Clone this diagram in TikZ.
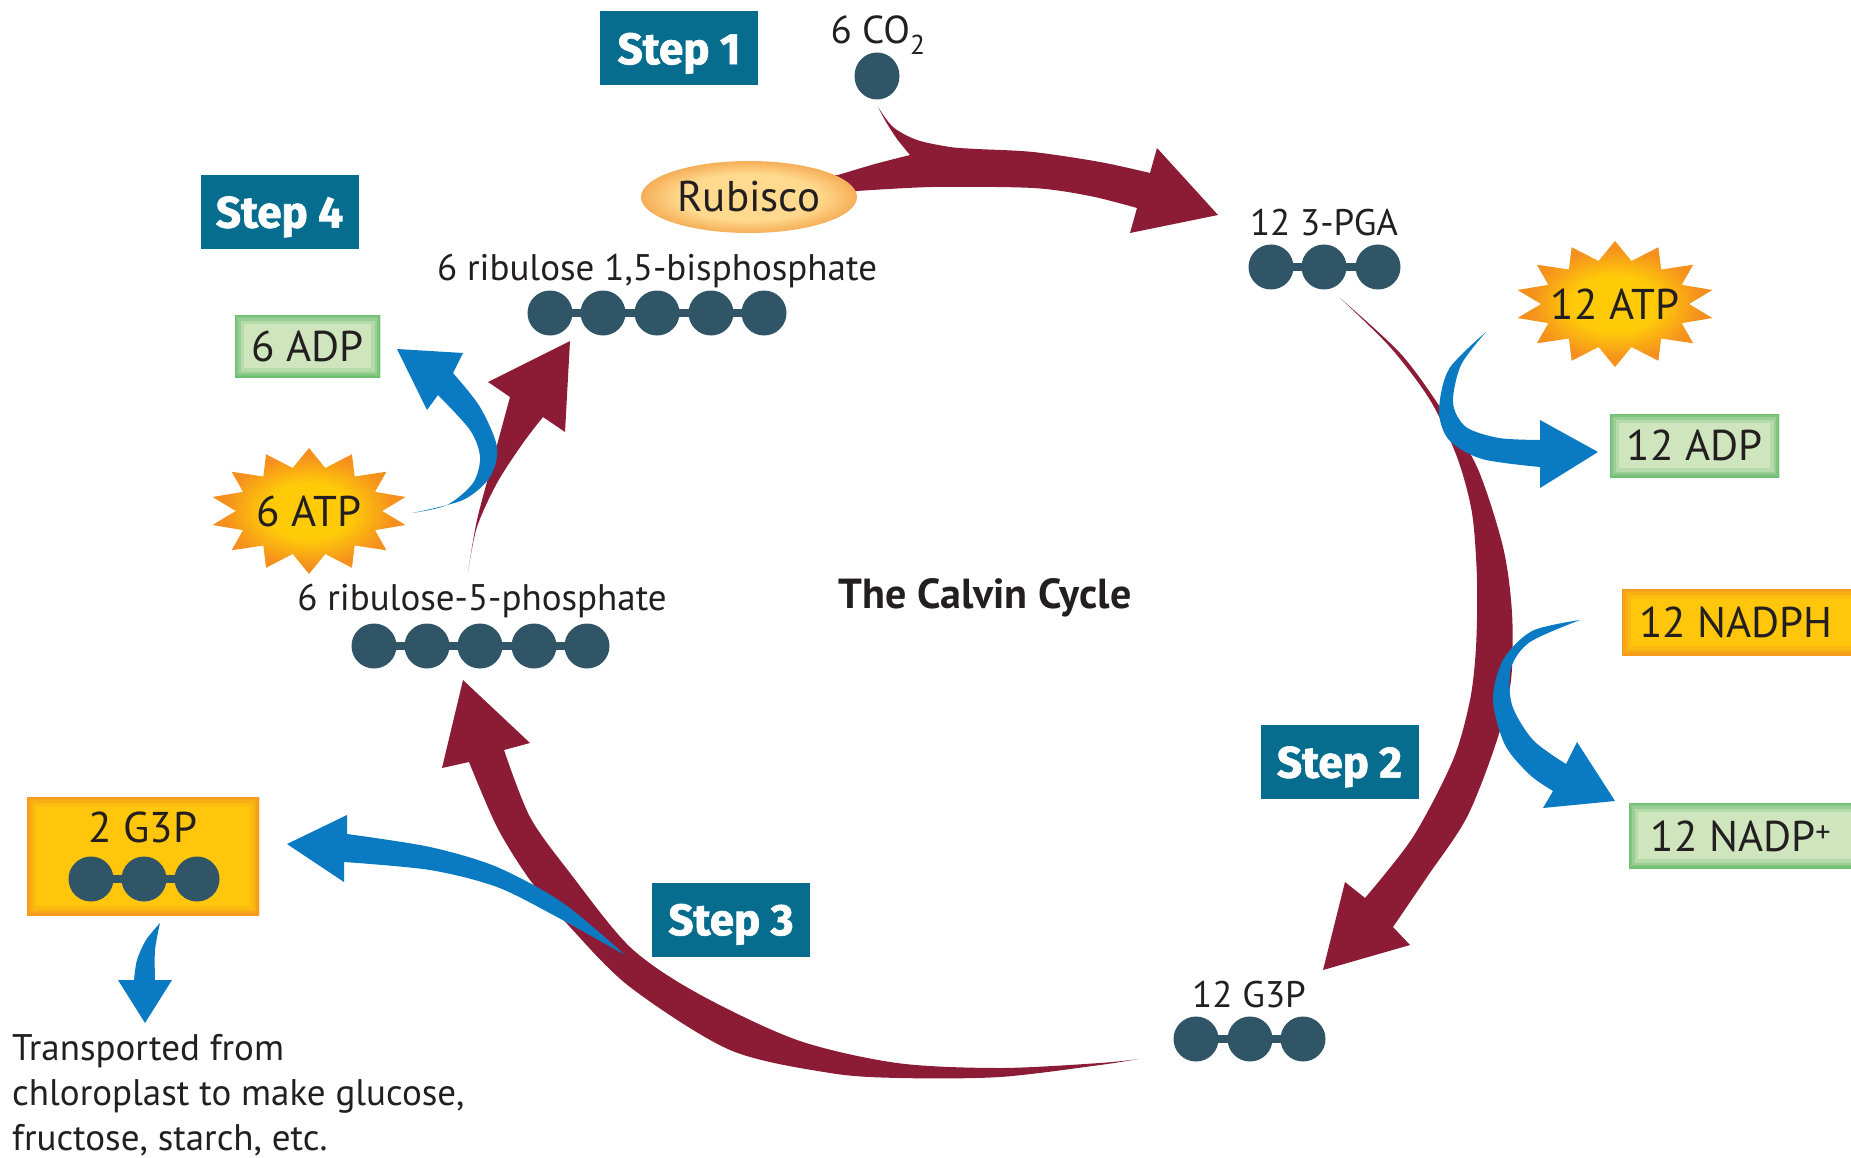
\documentclass[tikz,border=0pt]{standalone}
\usepackage{fontspec}
\setmainfont{PT Sans}
\newfontfamily\stepfont{Fira Sans}[UprightFont=* Bold, UprightFeatures={FakeBold=1.5}]
\definecolor{arrred}{HTML}{8C1C36}
\definecolor{arrblue}{HTML}{0A7AC3}
\definecolor{molcol}{HTML}{2F5567}
\definecolor{stepteal}{HTML}{066D8F}
\definecolor{txt}{HTML}{231F20}
\definecolor{greenfill}{HTML}{CEE5BD}
\definecolor{greenedge}{HTML}{6FBF73}
\definecolor{orfill}{HTML}{FFC60C}
\definecolor{oredge}{HTML}{F59A1E}
\definecolor{burstin}{HTML}{FFCB08}
\definecolor{burstout}{HTML}{F5901E}
\definecolor{rubin}{HTML}{FFDA8E}
\definecolor{rubout}{HTML}{F6AE58}
\pgfdeclareradialshading{burstshade}{\pgfpoint{0bp}{0bp}}{color(0bp)=(burstin); color(11bp)=(burstin); color(22bp)=(burstout); color(50bp)=(burstout)}
\pgfdeclareradialshading{rubshade}{\pgfpoint{0bp}{0bp}}{color(0bp)=(rubin); color(16bp)=(rubin); color(25bp)=(rubout); color(50bp)=(rubout)}
\newcommand\glowrect[6]{%
  \begin{scope}
  \clip (#1,#2) rectangle (#3,#4);
  \fill[#5] (#1,#2) rectangle (#3,#4);
  \draw[#6, line width=18pt, opacity=.25] (#1,#2) rectangle (#3,#4);
  \draw[#6, line width=11pt, opacity=.4] (#1,#2) rectangle (#3,#4);
  \draw[#6, line width=6pt, opacity=.6] (#1,#2) rectangle (#3,#4);
  \draw[#6, line width=2.5pt, opacity=1] (#1,#2) rectangle (#3,#4);
  \end{scope}}
\newcommand\burstshape[4]{%
  \shade[shading=burstshade] plot[samples at={0,...,27}, variable=\k]
   ({#1+(mod(\k,2)==0 ? #3 : 0.74*#3)*cos(\k*360/28+90)},
    {#2+(mod(\k,2)==0 ? #4 : 0.70*#4)*sin(\k*360/28+90)}) -- cycle;}
\begin{document}
\begin{tikzpicture}[x=1pt, y=-1pt,
  redarrow/.style={fill=arrred},
  bluearrow/.style={fill=arrblue},
  molc/.style={fill=molcol},
  stepbox/.style={fill=stepteal, minimum width=158pt, minimum height=74pt, inner sep=0pt,
     text=white, font=\stepfont\fontsize{44}{50}\selectfont},
  lbl/.style={font=\fontsize{37}{43}\selectfont, inner sep=0pt, text=txt},
  biglbl/.style={font=\fontsize{43}{49}\selectfont, inner sep=0pt, text=txt}]
\useasboundingbox (0,0) rectangle (1851,1158);
\fill[white] (0,0) rectangle (1851,1158);

% ---------- red arrows ----------
% Step 1 arrow (Rubisco + CO2 -> 3-PGA)
\fill[redarrow] (800,180) -- plot[smooth] coordinates {(838,175) (875,164) (910,155)}
  -- plot[smooth] coordinates {(910,155) (897,139) (886,122) (878,107)}
  -- plot[smooth] coordinates {(878,107) (893,127) (917,140) (950,147) (977,149) (1033,152) (1100,162) (1150,173)}
  -- (1157,148) -- (1218,215) -- (1130,233) -- (1137,208)
  -- plot[smooth] coordinates {(1137,208) (1090,196) (1033,188) (933,187) (857,191)}
  -- (800,195) -- cycle;
% Step 2 arc
\fill[redarrow] plot[smooth] coordinates {(1340,298) (1400,353) (1440,407) (1477,467) (1503,547) (1512,613) (1511,680) (1497,740) (1467,817) (1427,877) (1393,927)}
  -- (1410,945) -- (1323,970) -- (1345,882) -- (1365,898)
  -- plot[smooth] coordinates {(1365,898) (1413,837) (1453,760) (1470,700) (1476,647) (1477,580) (1472,513) (1457,457) (1430,400) (1390,347) (1340,298)} -- cycle;
% Step 3 arc
\fill[redarrow] plot[smooth] coordinates {(1138,1059) (1100,1065) (1000,1077) (900,1078) (830,1073) (730,1050) (630,987) (570,927) (530,880) (497,827) (469,762)}
  -- (442,768) -- (463,680) -- (530,743) -- (504,750)
  -- plot[smooth] coordinates {(504,750) (530,817) (570,873) (630,947) (697,993) (797,1040) (897,1063) (1000,1068) (1100,1063) (1138,1059)} -- cycle;
% Step 4 arrow
\fill[redarrow] plot[smooth] coordinates {(468,572) (477,520) (493,460) (510,397)}
  -- (488,382) -- (570,341) -- (565,432) -- (543,417)
  -- plot[smooth] coordinates {(543,417) (523,443) (497,483) (477,527) (468,572)} -- cycle;

% Rubisco
\shade[shading=rubshade] (749,197) ellipse [x radius=108pt, y radius=36pt];
\node[biglbl] (rub) at (749,197) {Rubisco};

% ---------- blue arrows ----------
\fill[bluearrow] plot[smooth] coordinates {(412,513) (447,505) (473,483) (480,457) (470,430) (438,395)}
  -- (427,410) -- (397,349) -- (463,353) -- (453,373)
  -- plot[smooth] coordinates {(453,373) (480,407) (497,447) (490,477) (463,500) (412,513)} -- cycle;
\fill[bluearrow] plot[smooth] coordinates {(1486,332) (1461,365) (1453,403) (1466,427) (1499,438) (1540,440)}
  -- (1540,420) -- (1598,452) -- (1540,488) -- (1540,467)
  -- plot[smooth] coordinates {(1540,467) (1482,459) (1449,440) (1439,411) (1449,369) (1486,332)} -- cycle;
\fill[bluearrow] plot[smooth] coordinates {(1580,620) (1532,631) (1503,660) (1493,700) (1505,745) (1530,775) (1553,791)}
  -- (1543,808) -- (1615,801) -- (1577,742) -- (1566,764)
  -- plot[smooth] coordinates {(1566,764) (1533,740) (1512,705) (1511,668) (1530,642) (1580,620)} -- cycle;
\fill[bluearrow] plot[smooth] coordinates {(625,955) (563,903) (497,867) (430,847) (347,834)}
  -- (347,815) -- (287,844) -- (344,882) -- (344,862)
  -- plot[smooth] coordinates {(344,862) (430,870) (497,887) (557,917) (625,955)} -- cycle;
\fill[bluearrow] plot[smooth] coordinates {(160,923) (146,940) (137,960) (134,980)}
  -- (118,980) -- (145,1023) -- (172,980) -- (155,980)
  -- plot[smooth] coordinates {(155,980) (155,950) (160,923)} -- cycle;

% ---------- step boxes ----------
\node[stepbox] (s1) at (679,48.5) {\raisebox{0pt}[\height][0pt]{Step 1}};
\node[stepbox] (s4) at (279.5,212) {\raisebox{0pt}[\height][0pt]{Step 4}};
\node[stepbox] (s2) at (1339.5,762) {\raisebox{0pt}[\height][0pt]{Step 2}};
\node[stepbox] (s3) at (731,919.5) {\raisebox{0pt}[\height][0pt]{Step 3}};

% ---------- ATP / ADP / NADPH boxes ----------
\burstshape{1615}{304}{100}{63}
\node[biglbl] (atp12) at (1615,304) {12 ATP};
\burstshape{309}{511}{99}{63}
\node[biglbl] (atp6) at (309,511) {6 ATP};
\glowrect{1610}{414}{1779}{477}{greenfill}{greenedge}
\node[biglbl] (adp12) at (1694.5,445.5) {12 ADP};
\glowrect{235}{315}{380}{377}{greenfill}{greenedge}
\node[biglbl] (adp6) at (307.5,346) {6 ADP};
\glowrect{1622}{589}{1862}{655}{orfill}{oredge}
\node[biglbl] (nadph) at (1736,622) {12 NADPH};
\glowrect{1629}{803}{1862}{868}{greenfill}{greenedge}
\node[biglbl] (nadp) at (1741,836) {12 NADP\textsuperscript{+}};
\glowrect{27}{797}{259}{915}{orfill}{oredge}
\node[biglbl, anchor=base] (g3p2) at (143,842) {2 G3P};

% ---------- molecules ----------
\fill[molc] (877,76) ellipse [x radius=22.5pt, y radius=23.5pt];
\node[lbl, anchor=base, font=\fontsize{39}{45}\selectfont] (co2) at (878,44) {6 CO\textsubscript{2}};

\node[lbl, anchor=base] (rubp) at (657,280) {6 ribulose 1,5-bisphosphate};
\fill[molc] (550,309) rectangle (764,317);
\foreach \x in {550,603,657,711,764} \fill[molc] (\x,313) circle (22.5pt);

\node[lbl, anchor=base] (pga) at (1324,236) {12 3-PGA};
\fill[molc] (1271,263) rectangle (1378,271);
\foreach \x in {1271,1324,1378} \fill[molc] (\x,267) circle (22.5pt);

\node[lbl, anchor=base] (g3p12) at (1249,1007) {12 G3P};
\fill[molc] (1196,1035) rectangle (1303,1043);
\foreach \x in {1196,1250,1303} \fill[molc] (\x,1039) circle (22.5pt);

\node[lbl, anchor=base] (ru5p) at (482,610) {6 ribulose-5-phosphate};
\fill[molc] (374,642) rectangle (587,650);
\foreach \x in {374,427,480,534,587} \fill[molc] (\x,646) circle (22.5pt);

\fill[molc] (91,875) rectangle (197,883);
\foreach \x in {91,144,197} \fill[molc] (\x,879) circle (22.5pt);

% ---------- titles and notes ----------
\node[font=\bfseries\fontsize{42}{48}\selectfont, inner sep=0pt, text=txt, anchor=base] (title) at (985,608) {The Calvin Cycle};
\node[lbl, anchor=base west] (t1) at (12,1060) {Transported from};
\node[lbl, anchor=base west] (t2) at (12,1105) {chloroplast to make glucose,};
\node[lbl, anchor=base west] (t3) at (12,1150) {fructose, starch, etc.};
\end{tikzpicture}
\end{document}
